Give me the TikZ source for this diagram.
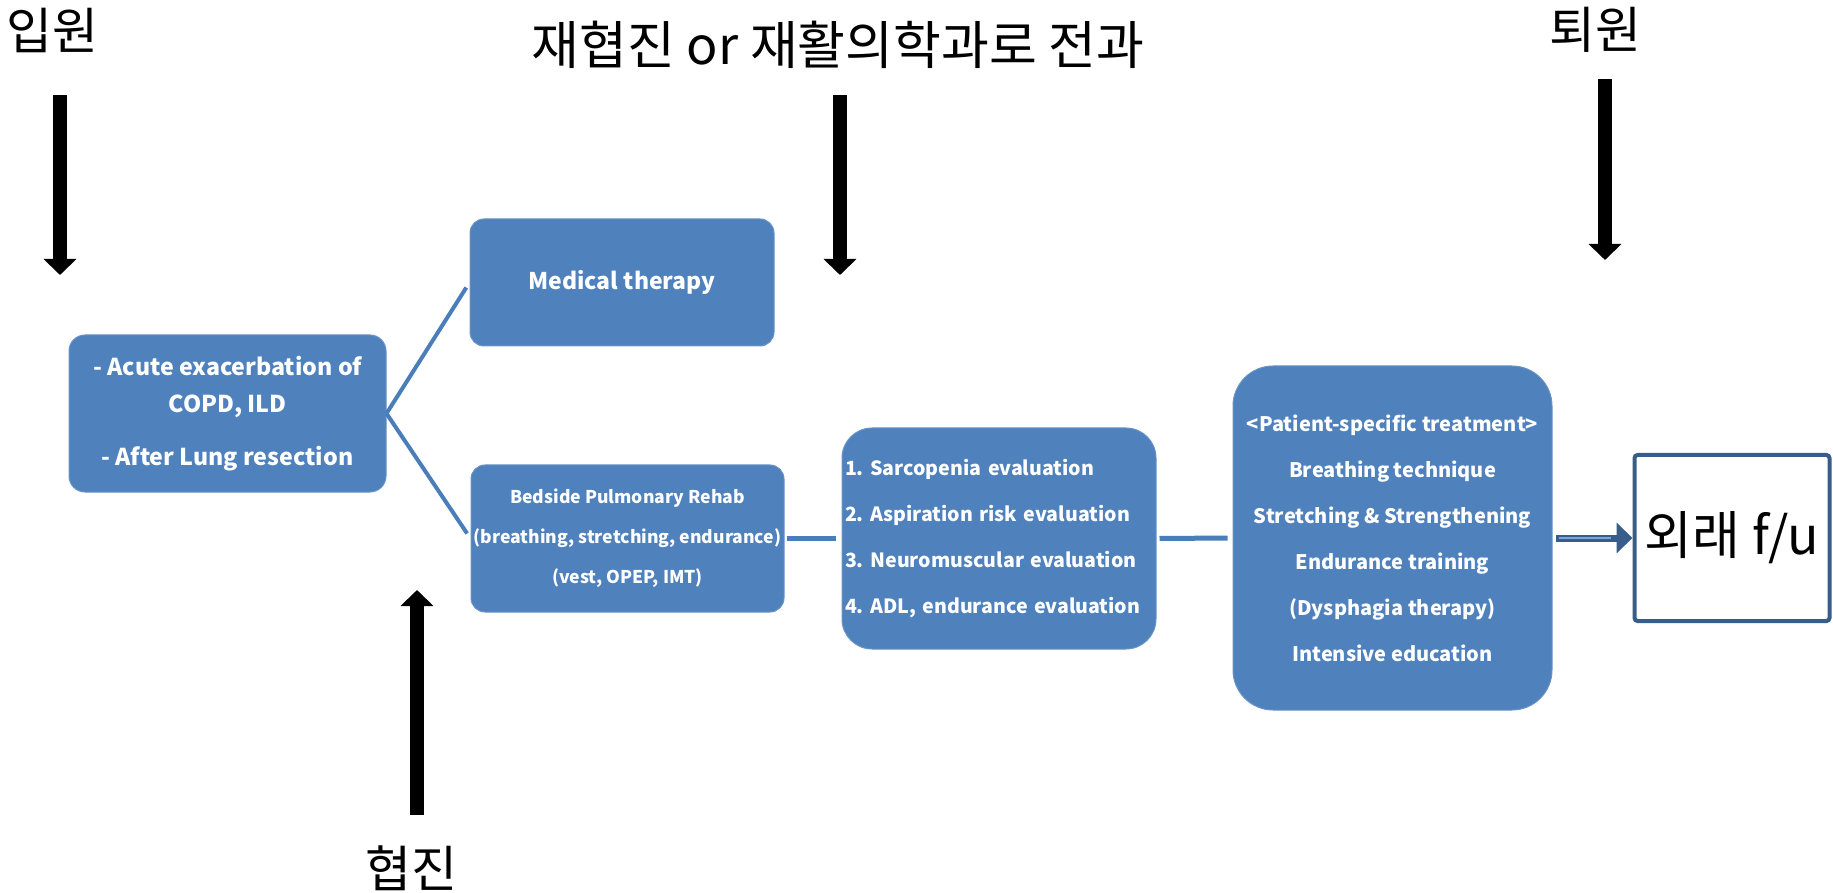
\documentclass[tikz,border=0pt]{standalone}
\usepackage{fontspec}
\setmainfont{Noto Sans CJK KR}
\usetikzlibrary{arrows.meta}
\definecolor{boxblue}{HTML}{4F81BD}
\definecolor{lineblue}{HTML}{4A7EBB}
\definecolor{darkblue}{HTML}{385D8A}
\frenchspacing

\begin{document}
\begin{tikzpicture}[x=0.5pt,y=-0.5pt,
    box/.style={fill=boxblue, draw=boxblue!85!white, line width=0.5pt, text=white, align=center, inner sep=0pt},
    link/.style={draw=lineblue, line width=2pt},
    bigarrow/.style={line width=7pt, -{Triangle[width=16pt,length=8pt]}},
    title/.style={font=\fontsize{25}{28}\selectfont}]

    \useasboundingbox (0,0) rectangle (1833,893);
    %\draw[step=100,help lines] (0,0) grid (1833,893);

    \node[title] (ipwon) at (52,30) {입원};
    \node[title, font=\fontsize{26}{28}\selectfont] (transfer) at (838,45) {재협진 or 재활의학과로 전과};
    \node[title] (toewon) at (1595,30) {퇴원};
    \node[title] (consult) at (411,868) {협진};

    \node[box, minimum width=158.5pt, minimum height=78.5pt, rounded corners=8pt, font=\bfseries\fontsize{11.6}{18.5}\selectfont] (case) at (227.5,413.5) {- Acute exacerbation of\\COPD, ILD\\[8pt]- After Lung resection};
    \node[box, minimum width=152pt, minimum height=63.5pt, rounded corners=7pt, font=\bfseries\fontsize{11.5}{16}\selectfont] (medical) at (622,282.5) {Medical therapy};
    \node[box, minimum width=156.5pt, minimum height=73.5pt, rounded corners=7pt, font=\bfseries\fontsize{8.8}{20}\selectfont] (bedside) at (627.5,538.5) {Bedside Pulmonary Rehab\\(breathing, stretching, endurance)\\(vest, OPEP, IMT)};
    \node[box, minimum width=157pt, minimum height=110.5pt, rounded corners=15pt, align=left, text width=154pt, font=\bfseries\fontsize{9.8}{23}\selectfont] (eval) at (999,538.5) {1. Sarcopenia evaluation\\2. Aspiration risk evaluation\\3. Neuromuscular evaluation\\4. ADL, endurance evaluation};
    \node[box, minimum width=159.5pt, minimum height=172pt, rounded corners=20pt, font=\bfseries\fontsize{10}{23}\selectfont] (treat) at (1392.5,538) {<Patient-specific treatment>\\Breathing technique\\Stretching \& Strengthening\\Endurance training\\(Dysphagia therapy)\\Intensive education};
    \node[draw=darkblue, line width=2pt, rounded corners=1.5pt, minimum width=97.5pt, minimum height=83pt, inner sep=0pt, font=\fontsize{26}{28}\selectfont] (fu) at (1732,538) {외래 f/u};

    \coordinate (ipwon_top) at (60,95);
    \coordinate (ipwon_tip) at (60,275);
    \coordinate (transfer_top) at (840,95);
    \coordinate (transfer_tip) at (840,275);
    \coordinate (toewon_top) at (1605,79);
    \coordinate (toewon_tip) at (1605,260);
    \coordinate (consult_bot) at (417,815);
    \coordinate (consult_tip) at (417,590);

    \draw[bigarrow] (ipwon_top) -- (ipwon_tip);
    \draw[bigarrow] (transfer_top) -- (transfer_tip);
    \draw[bigarrow] (toewon_top) -- (toewon_tip);
    \draw[bigarrow] (consult_bot) -- (consult_tip);

    \draw[link, shorten >=3pt] (case.east) -- (medical.west);
    \draw[link, shorten >=3pt] (case.east) -- (bedside.west);
    \draw[link, line width=2.5pt, shorten <=1pt, shorten >=3pt] (bedside.east) -- (eval.west);
    \draw[link, line width=2.5pt, shorten <=1.5pt, shorten >=2.5pt] (eval.east) -- (treat.west);

    \draw[darkblue, line width=3.5pt, shorten <=1.5pt, -{Triangle[width=15pt,length=8pt]}] (treat.east) -- (fu.west);
    \draw[lineblue!70!white, line width=1pt, shorten <=3pt, shorten >=11pt] (treat.east) -- (fu.west);
\end{tikzpicture}
\end{document}
